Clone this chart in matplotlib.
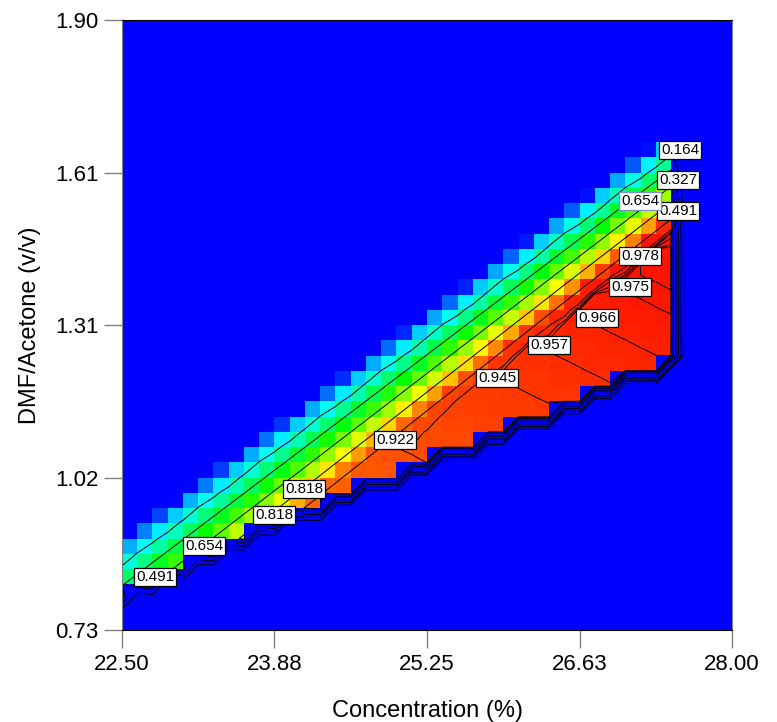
import numpy as np
import matplotlib.pyplot as plt
from matplotlib.colors import LinearSegmentedColormap

plt.rcParams['font.family'] = ['Liberation Sans', 'DejaVu Sans']

# axis ticks
x_ticks = [22.50, 23.875, 25.25, 26.625, 28.00]
x_tick_labels = ["22.50", "23.88", "25.25", "26.63", "28.00"]
y_ticks = [0.73, 1.0225, 1.315, 1.6075, 1.90]
y_tick_labels = ["0.73", "1.02", "1.31", "1.61", "1.90"]

n_grid = 41  # design grid points per factor

# 0.164 desirability line along the upper side of the band
line164_x = [22.50, 25.00, 27.50]
line164_y = [0.857, 1.254, 1.652]

# vertical spacing between successive contour levels across the band
spacing_x = [22.50, 25.00, 26.50, 27.50]
spacing_y = [0.0422, 0.0364, 0.0330, 0.0315]

# desirability across the band, in spacing steps below the 0.164 line
ramp_steps = [-0.5, 0, 1, 2, 3, 4, 5, 6]
ramp_levels = [0.0, 0.164, 0.327, 0.491, 0.654, 0.818, 0.982, 0.99]

# points read on the red plateau contours (they run with this slope)
plateau_slope = -0.1064
plateau_x = [24.25, 24.98, 26.06, 26.36, 26.81, 27.08, 27.19, 27.45]
plateau_y = [0.985, 1.079, 1.196, 1.261, 1.311, 1.373, 1.405, 1.500]
plateau_levels = [0.900, 0.922, 0.945, 0.957, 0.966, 0.975, 0.978, 0.981]

# constraints: lower limit curve and right limit
low_x = [22.500, 24.105, 25.367, 26.224, 26.900, 27.441, 28.0]
low_y = [0.7741, 0.9448, 1.0542, 1.1251, 1.1846, 1.2402, 1.29]
x_limit = 27.50

contour_levels = [0.164, 0.327, 0.491, 0.654, 0.818,
                  0.922, 0.945, 0.957, 0.966, 0.975, 0.978]

# contour labels (text, x, y)
label_text = ["0.491", "0.654", "0.818", "0.818", "0.922", "0.945", "0.957",
              "0.966", "0.975", "0.978", "0.164", "0.327", "0.491", "0.654"]
label_x = [22.798, 23.239, 23.870, 24.141, 24.961, 25.881, 26.350,
           26.783, 27.080, 27.171, 27.531, 27.513, 27.513, 27.171]
label_y = [0.8317, 0.8911, 0.9506, 1.0005, 1.0944, 1.2134, 1.2767,
           1.3284, 1.3879, 1.4473, 1.6507, 1.5931, 1.5337, 1.5528]

# --- build desirability on the grid ---
xg = np.linspace(22.5, 28.0, n_grid)
yg = np.linspace(0.73, 1.90, n_grid)
dx = xg[1] - xg[0]
dy = yg[1] - yg[0]
X, Y = np.meshgrid(xg, yg)

offset = np.interp(X, line164_x, line164_y) - Y
step = offset / np.interp(X, spacing_x, spacing_y)
ramp = np.interp(step, ramp_steps, ramp_levels)

w_pts = np.array(plateau_y) - plateau_slope * np.array(plateau_x)
order = np.argsort(w_pts)
w = Y - plateau_slope * X
plateau = np.interp(w, w_pts[order], np.array(plateau_levels)[order])

D = np.minimum(ramp, plateau)
feasible = (Y >= np.interp(X, low_x, low_y)) & (X <= x_limit)
D[~feasible] = 0.0

cmap = LinearSegmentedColormap.from_list(
    "de", [(0, "#0000ff"), (0.25, "#00ffff"), (0.5, "#00ff00"),
           (0.75, "#ffff00"), (1.0, "#ff0000")])

fig = plt.figure(figsize=(7.77, 7.22), dpi=100)
ax = fig.add_axes([0.157, 0.1274, 0.7851, 0.8449])

# each cell takes the value of the grid point at its lower-right corner
x_edges = np.concatenate([xg - dx, [xg[-1]]])
y_edges = np.concatenate([yg, [yg[-1] + dy]])
ax.pcolormesh(x_edges, y_edges, D, cmap=cmap, vmin=0, vmax=1.0,
              shading='flat', edgecolors='none', antialiased=False)
ax.contour(X, Y, D, levels=contour_levels, colors='black', linewidths=0.7)

for i, (t, lx, ly) in enumerate(zip(label_text, label_x, label_y)):
    edge = '#7f8fc8' if i == len(label_text) - 1 else 'black'
    ax.text(lx, ly, t, fontsize=11, ha='center', va='center', zorder=5 + i,
            bbox=dict(boxstyle='square,pad=0.12', fc='white', ec=edge, lw=0.9))

ax.set_xlim(22.5, 28.0)
ax.set_ylim(0.73, 1.90)
ax.set_xticks(x_ticks)
ax.set_xticklabels(x_tick_labels)
ax.set_yticks(y_ticks)
ax.set_yticklabels(y_tick_labels)
ax.tick_params(direction='out', length=13, width=1, color='#808080',
               labelsize=16, pad=4)
for side in ['left', 'right']:
    ax.spines[side].set_color('#808080')
for side in ['top', 'bottom']:
    ax.spines[side].set_color('black')

ax.set_xlabel("Concentration (%)", fontsize=17, labelpad=18)
ax.set_ylabel("DMF/Acetone (v/v)", fontsize=17, labelpad=10)

fig.savefig("out.png", dpi=100)
